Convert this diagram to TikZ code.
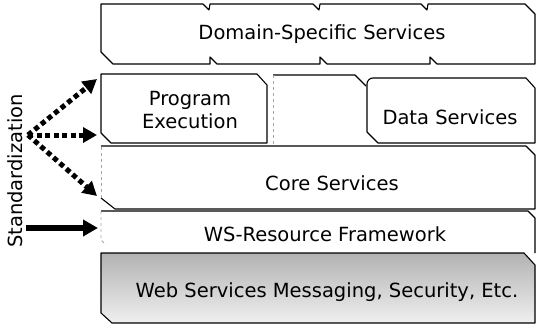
\documentclass[tikz,border=0pt]{standalone}
\usepackage{fontspec}
\setmainfont{DejaVu Sans}
\usetikzlibrary{arrows.meta}
\begin{document}
\begin{tikzpicture}[x=1pt,y=-1pt,
  outline/.style={draw=black,line width=1.1pt,line join=round},
  faint/.style={draw=gray!70,line width=0.8pt,dashed},
  lbl/.style={font=\fontsize{19.5}{23}\selectfont,inner sep=0pt,align=center},
  dotarrow/.style={line width=5pt,dash pattern=on 5pt off 3.5pt,-{Triangle[length=14pt,width=15pt]}},
  solidarrow/.style={line width=5.5pt,-{Triangle[length=15pt,width=16pt]}}]
\useasboundingbox (0,0) rectangle (537,326);
% Domain-specific services
\draw[outline] (101,4) -- (203,4) -- (209,10) -- (210,4) -- (313,4) -- (319,10) -- (320,4)
  -- (421,4) -- (427,10) -- (428,4) -- (525,4) -- (535,14) -- (535,64)
  -- (437,64) -- (430,57) -- (430,64) -- (327,64) -- (320,57) -- (320,64)
  -- (217,64) -- (210,57) -- (210,64) -- (113,64) -- (101,52) -- cycle;
% Program execution
\draw[outline] (101,74) -- (257,74) -- (267,85) -- (267,143) -- (111,143) -- (101,133) -- cycle;
% middle empty box
\draw[outline] (273,75) -- (355,75) -- (366,86);
\draw[faint] (273,75) -- (273,146);
% Data services
\draw[outline] (367,132) -- (367,84) to[out=90,in=180] (373,78) -- (526,78) -- (535,88)
  -- (535,143) -- (378,143) -- cycle;
% Core services
\draw[outline] (101,146) -- (526,146) -- (535,155) -- (535,209) -- (115,209) -- (101,198);
\draw[faint] (101,198) -- (101,146);
% WS-Resource framework
\draw[outline] (101,211) -- (528,211) -- (535,218) -- (535,253);
\draw[faint] (101,211) -- (101,240) -- (106,245);
% Web services messaging
\shade[top color=gray!60,bottom color=gray!12] (101,253) -- (524,253) -- (535,265) -- (535,323) -- (112,323) -- (101,313) -- cycle;
\draw[outline] (101,253) -- (524,253) -- (535,265) -- (535,323) -- (112,323) -- (101,313) -- cycle;
% labels
\node[lbl] (dom) at (322,34) {Domain-Specific Services};
\node[lbl] (pe) at (190,110) {Program\\Execution};
\node[lbl] (ds) at (450,117) {Data Services};
\node[lbl] (core) at (332,183) {Core Services};
\node[lbl] (wsrf) at (325,234) {WS-Resource Framework};
\node[lbl] (wsm) at (327,292) {Web Services Messaging, Security, Etc.};
\node[lbl,rotate=90] (std) at (15,171) {Standardization};
% arrows
\coordinate (o) at (28,135);
\coordinate (t1) at (97,79);
\coordinate (t2) at (97,135);
\coordinate (t3) at (97,196);
\coordinate (s0) at (26,228);
\coordinate (s1) at (98,228);
\draw[dotarrow] (o) -- (t1);
\draw[dotarrow] (o) -- (t2);
\draw[dotarrow] (o) -- (t3);
\draw[solidarrow] (s0) -- (s1);
\end{tikzpicture}
\end{document}
